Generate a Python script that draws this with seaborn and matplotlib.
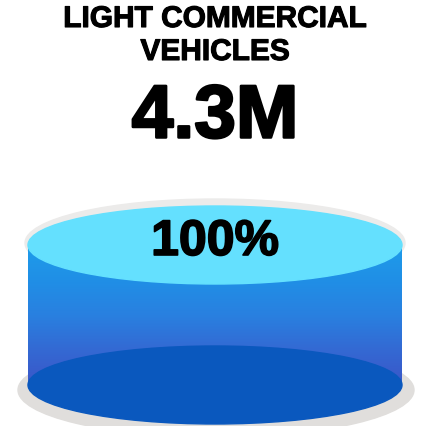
import numpy as np
import matplotlib
matplotlib.use("Agg")
import matplotlib.pyplot as plt
import matplotlib.patheffects as pe
import seaborn as sns
from matplotlib.patches import Ellipse, Rectangle
from matplotlib.colors import LinearSegmentedColormap

# ---- data ----
category_lines = ["LIGHT COMMERCIAL", "VEHICLES"]
total_value = "4.3M"
share_pct = [100]
share_labels = ["100%"]

sns.set_theme(style="white")
plt.rcParams["font.family"] = ["Liberation Sans", "DejaVu Sans"]

W, H = 424, 427
fig = plt.figure(figsize=(W / 100, H / 100), dpi=100)
ax = fig.add_axes([0, 0, 1, 1])
ax.set_xlim(0, W)
ax.set_ylim(H, 0)
ax.axis("off")

# cylinder geometry
cx = 215
left, right = 28, 402
top_cy, bot_cy = 246, 386
ell_h = 78
width = right - left

# scale: full height corresponds to 100%
frac = share_pct[0] / 100.0
top_y = bot_cy - (bot_cy - top_cy) * frac

# shadows
ax.add_patch(Ellipse((cx + 1, bot_cy + 5), width + 22, ell_h + 16, color="#E0DEDC", zorder=1))
ax.add_patch(Ellipse((cx, top_y - 2), width + 6, ell_h + 10, color="#ECEBEA", zorder=1))

# side gradient
cmap = LinearSegmentedColormap.from_list(
    "side", ["#1E9CEA", "#208FE6", "#2980E0", "#3469D3", "#3A56C8"])
grad = np.linspace(0, 1, 256).reshape(-1, 1)
im = ax.imshow(grad, cmap=cmap, extent=[left, right, bot_cy, top_y],
               aspect="auto", zorder=2, interpolation="bicubic")
clip = Rectangle((left, top_y), width, bot_cy - top_y, transform=ax.transData)
im.set_clip_path(clip)

# bottom and top faces
ax.add_patch(Ellipse((cx, bot_cy), width, ell_h, color="#0A58BE", zorder=3))
ax.add_patch(Ellipse((cx, top_y), width, ell_h, color="#64E0FE", zorder=4))

# texts (slightly heavier look via thin stroke)
def heavy(lw):
    return [pe.withStroke(linewidth=lw, foreground="black")]

ax.text(cx, 20, category_lines[0], ha="center", va="center",
        fontsize=21.5, fontweight="bold", color="black", zorder=5,
        path_effects=heavy(0.8))
ax.text(cx, 53, category_lines[1], ha="center", va="center",
        fontsize=21.5, fontweight="bold", color="black", zorder=5,
        path_effects=heavy(0.8))
ax.text(cx, 119, total_value, ha="center", va="center",
        fontsize=54, fontweight="bold", color="black", zorder=5,
        path_effects=heavy(1.8))
ax.text(cx, 243, share_labels[0], ha="center", va="center",
        fontsize=36, fontweight="bold", color="black", zorder=5,
        path_effects=heavy(1.2))

fig.savefig("out.png", dpi=100, facecolor="white")
